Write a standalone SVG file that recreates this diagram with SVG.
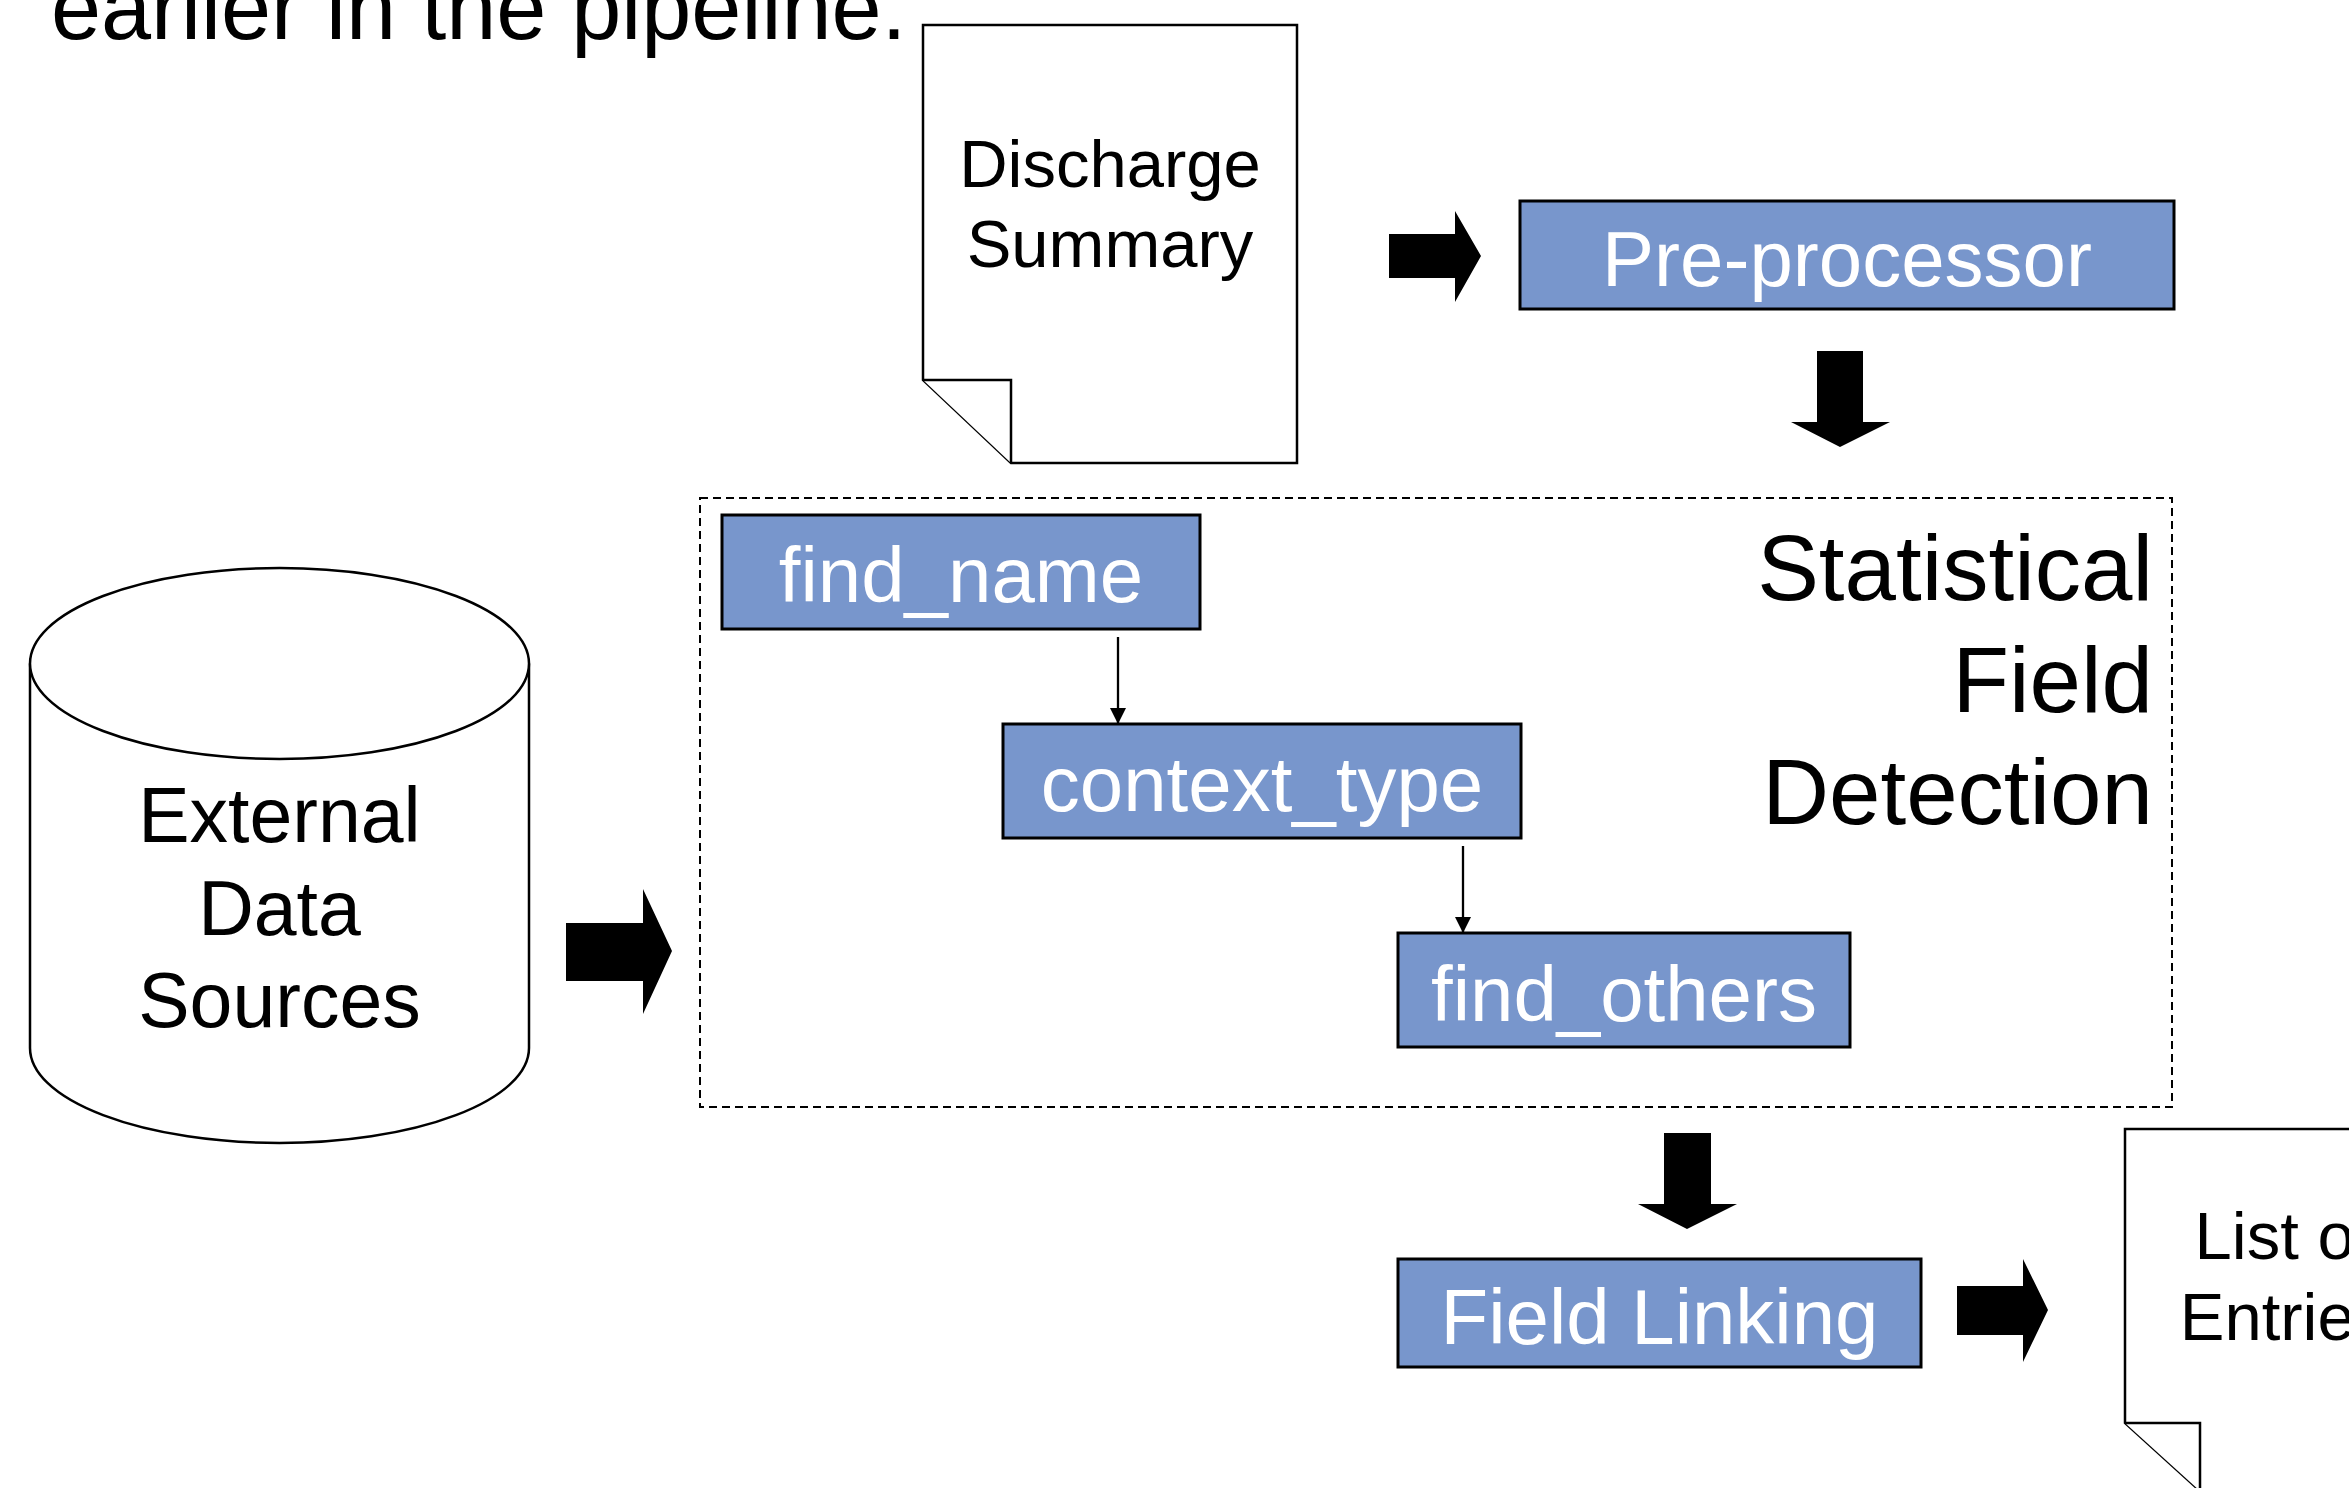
<svg xmlns="http://www.w3.org/2000/svg" width="2349" height="1488" viewBox="0 0 2349 1488">
  <style>
    .txt { font-family: "Liberation Sans", Arial, sans-serif; }
    .dark { fill: #000000; }
    .lbl { fill: #ffffff; font-size: 78px; text-anchor: middle; }
    .proc { fill: #7896cc; stroke: #000000; stroke-width: 3; }
    .outline { fill: #ffffff; stroke: #000000; stroke-width: 2.5; stroke-linejoin: miter; }
    .block { fill: #000000; stroke: none; }
    .thin { stroke: #000000; stroke-width: 2.3; fill: none; }
  </style>
  <defs>
    <marker id="tip" viewBox="0 0 16 16" refX="16" refY="8" markerWidth="16" markerHeight="16" markerUnits="userSpaceOnUse" orient="auto">
      <path d="M0,0 L16,8 L0,16 Z" fill="#000000"/>
    </marker>
  </defs>

  <rect x="0" y="0" width="2349" height="1488" fill="#ffffff"/>

  <!-- caption line continuing from above -->
  <text class="txt dark" x="51" y="39" font-size="90">earlier in the pipeline.</text>

  <!-- input document -->
  <g id="discharge-summary">
    <path class="outline" d="M923,25 H1297 V463 H1011 L923,380 Z"/>
    <path class="outline" d="M923,380 H1011 V463" fill="none"/>
    <text class="txt dark" x="1110" y="187" font-size="67" text-anchor="middle">Discharge</text>
    <text class="txt dark" x="1110" y="267" font-size="67" text-anchor="middle">Summary</text>
  </g>

  <g id="pre-processor">
    <rect class="proc" x="1520" y="201" width="654" height="108"/>
    <text class="txt lbl" x="1847" y="286">Pre-processor</text>
  </g>

  <!-- statistical detection stage -->
  <g id="statistical-field-detection">
    <rect x="700" y="498" width="1472" height="609" fill="none" stroke="#000000" stroke-width="2" stroke-dasharray="8 5"/>
    <text class="txt dark" x="2153" y="600" font-size="92.5" text-anchor="end">Statistical</text>
    <text class="txt dark" x="2153" y="712" font-size="92.5" text-anchor="end">Field</text>
    <text class="txt dark" x="2153" y="824" font-size="92.5" text-anchor="end">Detection</text>
  </g>

  <g id="find-name">
    <rect class="proc" x="722" y="515" width="478" height="114"/>
    <text class="txt lbl" x="961" y="602">find_name</text>
  </g>

  <g id="context-type">
    <rect class="proc" x="1003" y="724" width="518" height="114"/>
    <text class="txt lbl" x="1262" y="811">context_type</text>
  </g>

  <g id="find-others">
    <rect class="proc" x="1398" y="933" width="452" height="114"/>
    <text class="txt lbl" x="1624" y="1021">find_others</text>
  </g>

  <g id="external-data-sources">
    <path class="outline" d="M30,663.5 V1048 A249.5,95 0 0 0 529,1048 V663.5"/>
    <ellipse class="outline" cx="279.5" cy="663.5" rx="249.5" ry="95.5"/>
    <text class="txt dark" x="279.5" y="842" font-size="77" text-anchor="middle">External</text>
    <text class="txt dark" x="279.5" y="935" font-size="77" text-anchor="middle">Data</text>
    <text class="txt dark" x="279.5" y="1027" font-size="77" text-anchor="middle">Sources</text>
  </g>

  <g id="field-linking">
    <rect class="proc" x="1398" y="1259" width="523" height="108"/>
    <text class="txt lbl" x="1659.5" y="1344">Field Linking</text>
  </g>

  <!-- output document -->
  <g id="list-of-entries">
    <path class="outline" d="M2125,1129 H2499 V1491 H2200 L2125,1423 Z"/>
    <path class="outline" d="M2125,1423 H2200 V1491" fill="none"/>
    <text class="txt dark" x="2284" y="1259" font-size="67" text-anchor="middle">List of</text>
    <text class="txt dark" x="2284" y="1340" font-size="67" text-anchor="middle">Entries</text>
  </g>

  <g id="connectors">
    <!-- block arrows between stages -->
    <polygon class="block" points="1389,234 1455,234 1455,211 1481,256 1455,302 1455,278 1389,278"/>
    <polygon class="block" points="1817,351 1863,351 1863,422 1890,422 1840,447 1791,422 1817,422"/>
    <polygon class="block" points="566,923 643,923 643,889 672,951 643,1014 643,981 566,981"/>
    <polygon class="block" points="1664,1133 1711,1133 1711,1204 1737,1204 1687,1229 1638,1204 1664,1204"/>
    <polygon class="block" points="1957,1286 2023,1286 2023,1259 2048,1310 2023,1362 2023,1335 1957,1335"/>
    <!-- thin links inside the detection stage -->
    <line class="thin" x1="1118" y1="637" x2="1118" y2="724" marker-end="url(#tip)"/>
    <line class="thin" x1="1463" y1="846" x2="1463" y2="933" marker-end="url(#tip)"/>
  </g>
</svg>
